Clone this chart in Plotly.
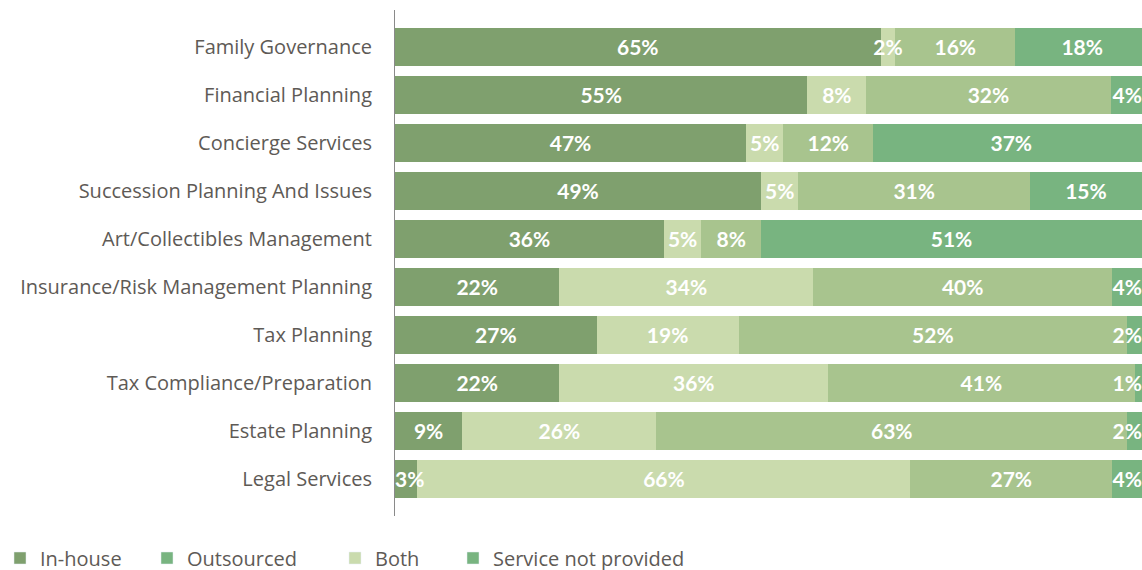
import plotly.graph_objects as go

categories = [
    "Family Governance",
    "Financial Planning",
    "Concierge Services",
    "Succession Planning And Issues",
    "Art/Collectibles Management",
    "Insurance/Risk Management Planning",
    "Tax Planning",
    "Tax Compliance/Preparation",
    "Estate Planning",
    "Legal Services",
]

series_names = ["In-house", "Outsourced", "Both", "Service not provided"]

in_house = [65, 55.2, 47, 49, 36, 22, 27, 22, 9, 3]
outsourced = [2, 7.9, 5, 5, 5, 34, 19, 36, 26, 66]
both = [16, 32.7, 12, 31, 8, 40, 52, 41, 63, 27]
not_provided = [18, 4.2, 37, 15, 51, 4, 2, 1, 2, 4]

in_house_lbl = [65, 55, 47, 49, 36, 22, 27, 22, 9, 3]
outsourced_lbl = [2, 8, 5, 5, 5, 34, 19, 36, 26, 66]
both_lbl = [16, 32, 12, 31, 8, 40, 52, 41, 63, 27]
not_provided_lbl = [18, 4, 37, 15, 51, 4, 2, 1, 2, 4]

bar_colors = ["#7fa06e", "#cadbad", "#a8c48e", "#78b480"]
legend_colors = ["#7fa06e", "#78b480", "#cadbad", "#78b480"]
legend_x_px = [-10, 147, 335, 453]

values = [in_house, outsourced, both, not_provided]
labels = [in_house_lbl, outsourced_lbl, both_lbl, not_provided_lbl]

W, H = 1142, 570
Y_RANGE = [9.77, -0.77]
TEXT_SHIFT = 0.06  # nudges the label layer down to the visual centre of each bar

fig = go.Figure()

for name, vals, col in zip(series_names, values, bar_colors):
    fig.add_trace(go.Bar(
        y=categories, x=vals, orientation="h", name=name,
        marker=dict(color=col, line=dict(width=0)),
        showlegend=False, hoverinfo="x+name",
    ))

# value labels, drawn above all bar segments
starts = [0.0] * len(categories)
txt_x, txt_y, txt_s, txt_pos = [], [], [], []
for vals, lbls in zip(values, labels):
    for j, (v, l) in enumerate(zip(vals, lbls)):
        s = starts[j]
        e = s + v
        if s == 0 and v < 4.5:
            txt_x.append(0); txt_pos.append("middle right")
        elif e >= 99.5 and v < 4.5:
            txt_x.append(100); txt_pos.append("middle left")
        else:
            txt_x.append(s + v / 2); txt_pos.append("middle center")
        txt_y.append(categories[j])
        txt_s.append(f"{l}%")
        starts[j] = e

fig.add_trace(go.Scatter(
    x=txt_x, y=txt_y, text=txt_s, mode="text", textposition=txt_pos,
    textfont=dict(family="Lato", size=21, color="white", weight="bold"),
    showlegend=False, hoverinfo="skip", cliponaxis=True, yaxis="y2",
))

legend_keys = ["legend", "legend2", "legend3", "legend4"]
for i, (name, col) in enumerate(zip(series_names, legend_colors)):
    fig.add_trace(go.Bar(
        y=[None], x=[None], orientation="h", name=name,
        marker=dict(color=col), showlegend=True, legend=legend_keys[i],
    ))

legend_common = dict(
    orientation="h", xref="container", yref="container",
    xanchor="left", yanchor="middle", y=1 - 558 / H,
    font=dict(family="Open Sans", size=20, color="#5e5a56"),
    itemwidth=30, bgcolor="rgba(0,0,0,0)",
)

layout_legends = {}
for key, px in zip(legend_keys, legend_x_px):
    layout_legends[key] = dict(legend_common, x=px / W)

fig.update_layout(
    width=W, height=H,
    barmode="stack", bargap=0.2,
    margin=dict(l=395, r=0, t=10, b=54, autoexpand=False),
    plot_bgcolor="white", paper_bgcolor="white",
    xaxis=dict(range=[0, 100], visible=False, showgrid=False, zeroline=False, fixedrange=True),
    yaxis=dict(
        autorange=False, range=Y_RANGE,
        categoryorder="array", categoryarray=categories,
        showline=True, linecolor="#8a8a8a", linewidth=1,
        showgrid=False, zeroline=False, ticks="",
        ticklabelstandoff=18,
        tickfont=dict(family="Open Sans", size=20, color="#5e5a56"),
    ),
    yaxis2=dict(
        overlaying="y", autorange=False,
        range=[Y_RANGE[0] - TEXT_SHIFT, Y_RANGE[1] - TEXT_SHIFT],
        categoryorder="array", categoryarray=categories,
        visible=False, showgrid=False, zeroline=False,
    ),
    **layout_legends,
)

fig.write_html(
    "out.html",
    config={"displayModeBar": False},
    post_script="document.body.style.margin='0';document.body.style.overflow='hidden';",
)
